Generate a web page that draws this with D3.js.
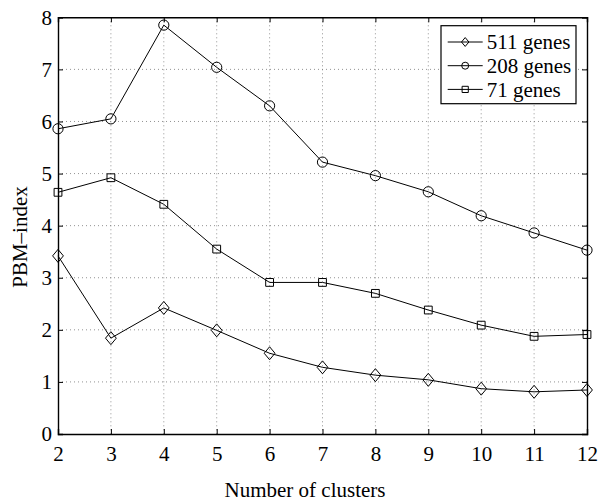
<!DOCTYPE html>
<html>
<head>
<meta charset="utf-8">
<script src="https://cdn.jsdelivr.net/npm/d3@7"></script>
<style>
  html, body { margin: 0; padding: 0; background: #fff; }
  svg { display: block; }
  svg text { font-family: "Liberation Serif", "Times New Roman", serif !important; fill: #000; }
</style>
</head>
<body>
<svg id="chart" width="603" height="501"></svg>
<script>
const clusters = [2, 3, 4, 5, 6, 7, 8, 9, 10, 11, 12];
const genes511 = [3.42, 1.84, 2.42, 1.99, 1.55, 1.28, 1.13, 1.04, 0.87, 0.81, 0.845];
const genes208 = [5.86, 6.05, 7.85, 7.04, 6.30, 5.22, 4.96, 4.65, 4.19, 3.86, 3.53];
const genes71  = [4.64, 4.92, 4.41, 3.55, 2.91, 2.91, 2.70, 2.38, 2.09, 1.875, 1.91];
const seriesNames = ["511 genes", "208 genes", "71 genes"];
const markerTypes = ["diamond", "circle", "square"];
const xTicks = [2, 3, 4, 5, 6, 7, 8, 9, 10, 11, 12];
const yTicks = [0, 1, 2, 3, 4, 5, 6, 7, 8];
const xLabel = "Number of clusters";
const yLabel = "PBM\u2013index";

const series = [genes511, genes208, genes71].map((vals, i) => ({
  name: seriesNames[i], marker: markerTypes[i],
  points: clusters.map((c, j) => ({ x: c, y: vals[j] }))
}));

const FONT = '"Liberation Serif", "Times New Roman", serif';
const svg = d3.select("#chart");
const L = 58, R = 587, T = 17.3, B = 434;
const x = d3.scaleLinear().domain([2, 12]).range([L, R]);
const y = d3.scaleLinear().domain([0, 8]).range([B, T]);
const FS = 21;

// grid
const grid = svg.append("g").attr("stroke", "#777").attr("stroke-width", 0.8)
  .attr("stroke-dasharray", "1,3");
grid.selectAll(".gx").data(xTicks.slice(1, -1)).enter().append("line")
  .attr("x1", d => x(d)).attr("x2", d => x(d)).attr("y1", T).attr("y2", B);
grid.selectAll(".gy").data(yTicks.slice(1, -1)).enter().append("line")
  .attr("y1", d => y(d)).attr("y2", d => y(d)).attr("x1", L).attr("x2", R);

// axes with inward ticks
const tickLen = 5;
const axB = svg.append("g").attr("transform", `translate(0,${B})`)
  .call(d3.axisBottom(x).tickValues(xTicks).tickSize(-tickLen).tickPadding(12).tickFormat(d3.format("d")));
const axT = svg.append("g").attr("transform", `translate(0,${T})`)
  .call(d3.axisTop(x).tickValues(xTicks).tickSize(-tickLen).tickFormat(""));
const axL = svg.append("g").attr("transform", `translate(${L},0)`)
  .call(d3.axisLeft(y).tickValues(yTicks).tickSize(-tickLen).tickPadding(6).tickFormat(d3.format("d")));
const axR = svg.append("g").attr("transform", `translate(${R},0)`)
  .call(d3.axisRight(y).tickValues(yTicks).tickSize(-tickLen).tickFormat(""));
[axB, axT, axL, axR].forEach(a => {
  a.attr("font-family", FONT).attr("font-size", FS);
  a.select(".domain").attr("stroke", "#000").attr("stroke-width", 1.4);
  a.selectAll(".tick line").attr("stroke", "#000").attr("stroke-width", 1);
  a.selectAll("text").attr("font-size", FS).style("font-family", FONT);
});
axB.selectAll(".tick text").attr("dy", "0.71em");

// lines
const line = d3.line().x(d => x(d.x)).y(d => y(d.y));
svg.selectAll(".series").data(series).enter().append("path")
  .attr("d", d => line(d.points)).attr("fill", "none")
  .attr("stroke", "#000").attr("stroke-width", 1);

function markerPath(type, s) {
  if (type === "circle") return d3.symbol(d3.symbolCircle, Math.PI * s * s)();
  if (type === "square") return `M${-s},${-s}H${s}V${s}H${-s}Z`;
  return `M0,${-s * 1.2}L${s},0L0,${s * 1.2}L${-s},0Z`;
}
const sizes = { circle: 5.1, square: 3.9, diamond: 5.4 };
series.forEach(s => {
  svg.append("g").selectAll("path").data(s.points).enter().append("path")
    .attr("transform", d => `translate(${x(d.x)},${y(d.y)})`)
    .attr("d", markerPath(s.marker, sizes[s.marker]))
    .attr("fill", "none").attr("stroke", "#000").attr("stroke-width", 1);
});

// legend
const lg = svg.append("g");
lg.append("rect").attr("x", 441).attr("y", 25.7).attr("width", 135).attr("height", 78)
  .attr("fill", "#fff").attr("stroke", "#000").attr("stroke-width", 1.2);
const legSizes = { circle: 3.5, square: 3.1, diamond: 3.7 };
series.forEach((s, i) => {
  const yy = 42 + i * 23.7;
  lg.append("line").attr("x1", 447.7).attr("x2", 482.7).attr("y1", yy).attr("y2", yy)
    .attr("stroke", "#000").attr("stroke-width", 1);
  lg.append("path").attr("transform", `translate(465.2,${yy})`)
    .attr("d", markerPath(s.marker, legSizes[s.marker]))
    .attr("fill", "none").attr("stroke", "#000").attr("stroke-width", 1);
  lg.append("text").attr("x", 486.7).attr("y", yy).attr("dy", "0.35em")
    .attr("font-size", FS).style("font-family", FONT).text(s.name);
});

// axis labels
svg.append("text").attr("x", 305).attr("y", 497).attr("text-anchor", "middle")
  .attr("font-size", FS).style("font-family", FONT).text(xLabel);
svg.append("text").attr("transform", "translate(27,237) rotate(-90)")
  .attr("text-anchor", "middle").attr("font-size", FS).style("font-family", FONT).text(yLabel);
</script>
</body>
</html>
